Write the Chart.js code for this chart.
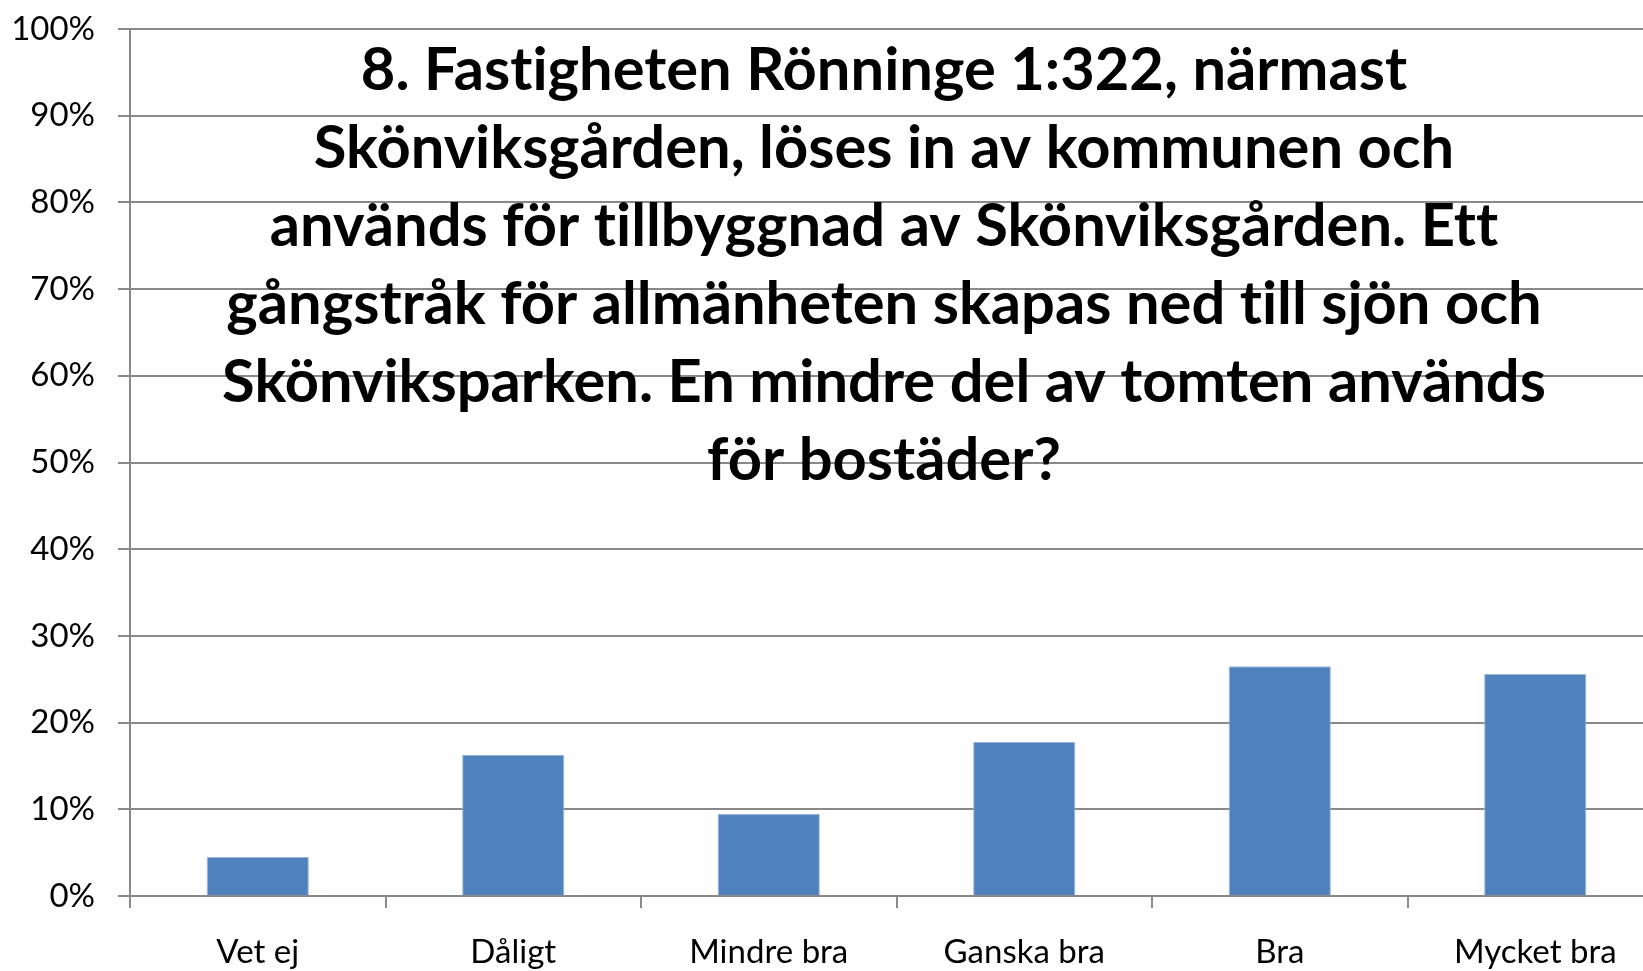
<!DOCTYPE html>
<html>
<head>
<meta charset="utf-8">
<script src="https://cdn.jsdelivr.net/npm/chart.js@4/dist/chart.umd.min.js"></script>
<style>
  html, body { margin: 0; padding: 0; background: #fff; overflow: hidden; }
  #wrap { position: relative; width: 1663px; height: 971px; }
</style>
</head>
<body>
<div id="wrap"><canvas id="c"></canvas></div>
<script>
const categories = ["Vet ej", "Dåligt", "Mindre bra", "Ganska bra", "Bra", "Mycket bra"];
const values = [4.5, 16.3, 9.5, 17.8, 26.5, 25.6];
const yTicks = [0, 10, 20, 30, 40, 50, 60, 70, 80, 90, 100];
const titleLines = [
  "8. Fastigheten Rönninge 1:322, närmast",
  "Skönviksgården, löses in av kommunen och",
  "används för tillbyggnad av Skönviksgården. Ett",
  "gångstråk för allmänheten skapas ned till sjön och",
  "Skönviksparken. En mindre del av tomten används",
  "för bostäder?"
];

const GRID = '#898989';
const FONT = 'Lato, "Open Sans", sans-serif';

const overlayTitle = {
  id: 'overlayTitle',
  afterDraw(chart) {
    const ctx = chart.ctx;
    ctx.save();
    ctx.fillStyle = '#000';
    ctx.textAlign = 'center';
    ctx.textBaseline = 'alphabetic';
    try { ctx.letterSpacing = '0.01px'; } catch (e) {}
    ctx.font = 'bold 65px ' + FONT;
    let maxW = 0;
    titleLines.forEach(l => { maxW = Math.max(maxW, ctx.measureText(l).width); });
    const size = 65 * 1324 / maxW;
    ctx.font = 'bold ' + size.toFixed(2) + 'px ' + FONT;
    const cx = 884, y0 = 90, step = 78;
    titleLines.forEach((l, i) => ctx.fillText(l, cx, y0 + i * step));
    ctx.restore();
  }
};

new Chart(document.getElementById('c'), {
  type: 'bar',
  data: {
    labels: categories,
    datasets: [{
      data: values,
      backgroundColor: '#4F81BD',
      borderColor: '#9DB6D8',
      borderWidth: 1,
      barPercentage: 0.4,
      categoryPercentage: 1.0
    }]
  },
  options: {
    responsive: true,
    maintainAspectRatio: false,
    animation: false,
    devicePixelRatio: 1,
    layout: { padding: { top: 29, left: 0, right: 0, bottom: 0 } },
    plugins: { legend: { display: false }, tooltip: { enabled: false }, title: { display: false } },
    scales: {
      x: {
        grid: { display: true, drawOnChartArea: false, drawTicks: true, tickLength: 12, offset: true, color: GRID, lineWidth: 2 },
        border: { display: true, color: GRID, width: 2 },
        ticks: { color: '#000', font: { family: FONT, size: 33 }, padding: 25, maxRotation: 0, autoSkip: false },
        afterFit(scale) { scale.height = 75; scale.paddingLeft = 0; scale.paddingRight = 0; }
      },
      y: {
        min: 0, max: 100,
        afterBuildTicks(scale) { scale.ticks = yTicks.map(v => ({ value: v })); },
        grid: { color: GRID, lineWidth: 2, tickLength: 12, drawTicks: true },
        border: { display: true, color: GRID, width: 2 },
        ticks: { color: '#000', font: { family: FONT, size: 33 }, padding: 23, callback: v => v + '%' },
        afterFit(scale) { scale.width = 130; scale.paddingTop = 0; scale.paddingBottom = 0; }
      }
    }
  },
  plugins: [overlayTitle]
});
</script>
</body>
</html>
